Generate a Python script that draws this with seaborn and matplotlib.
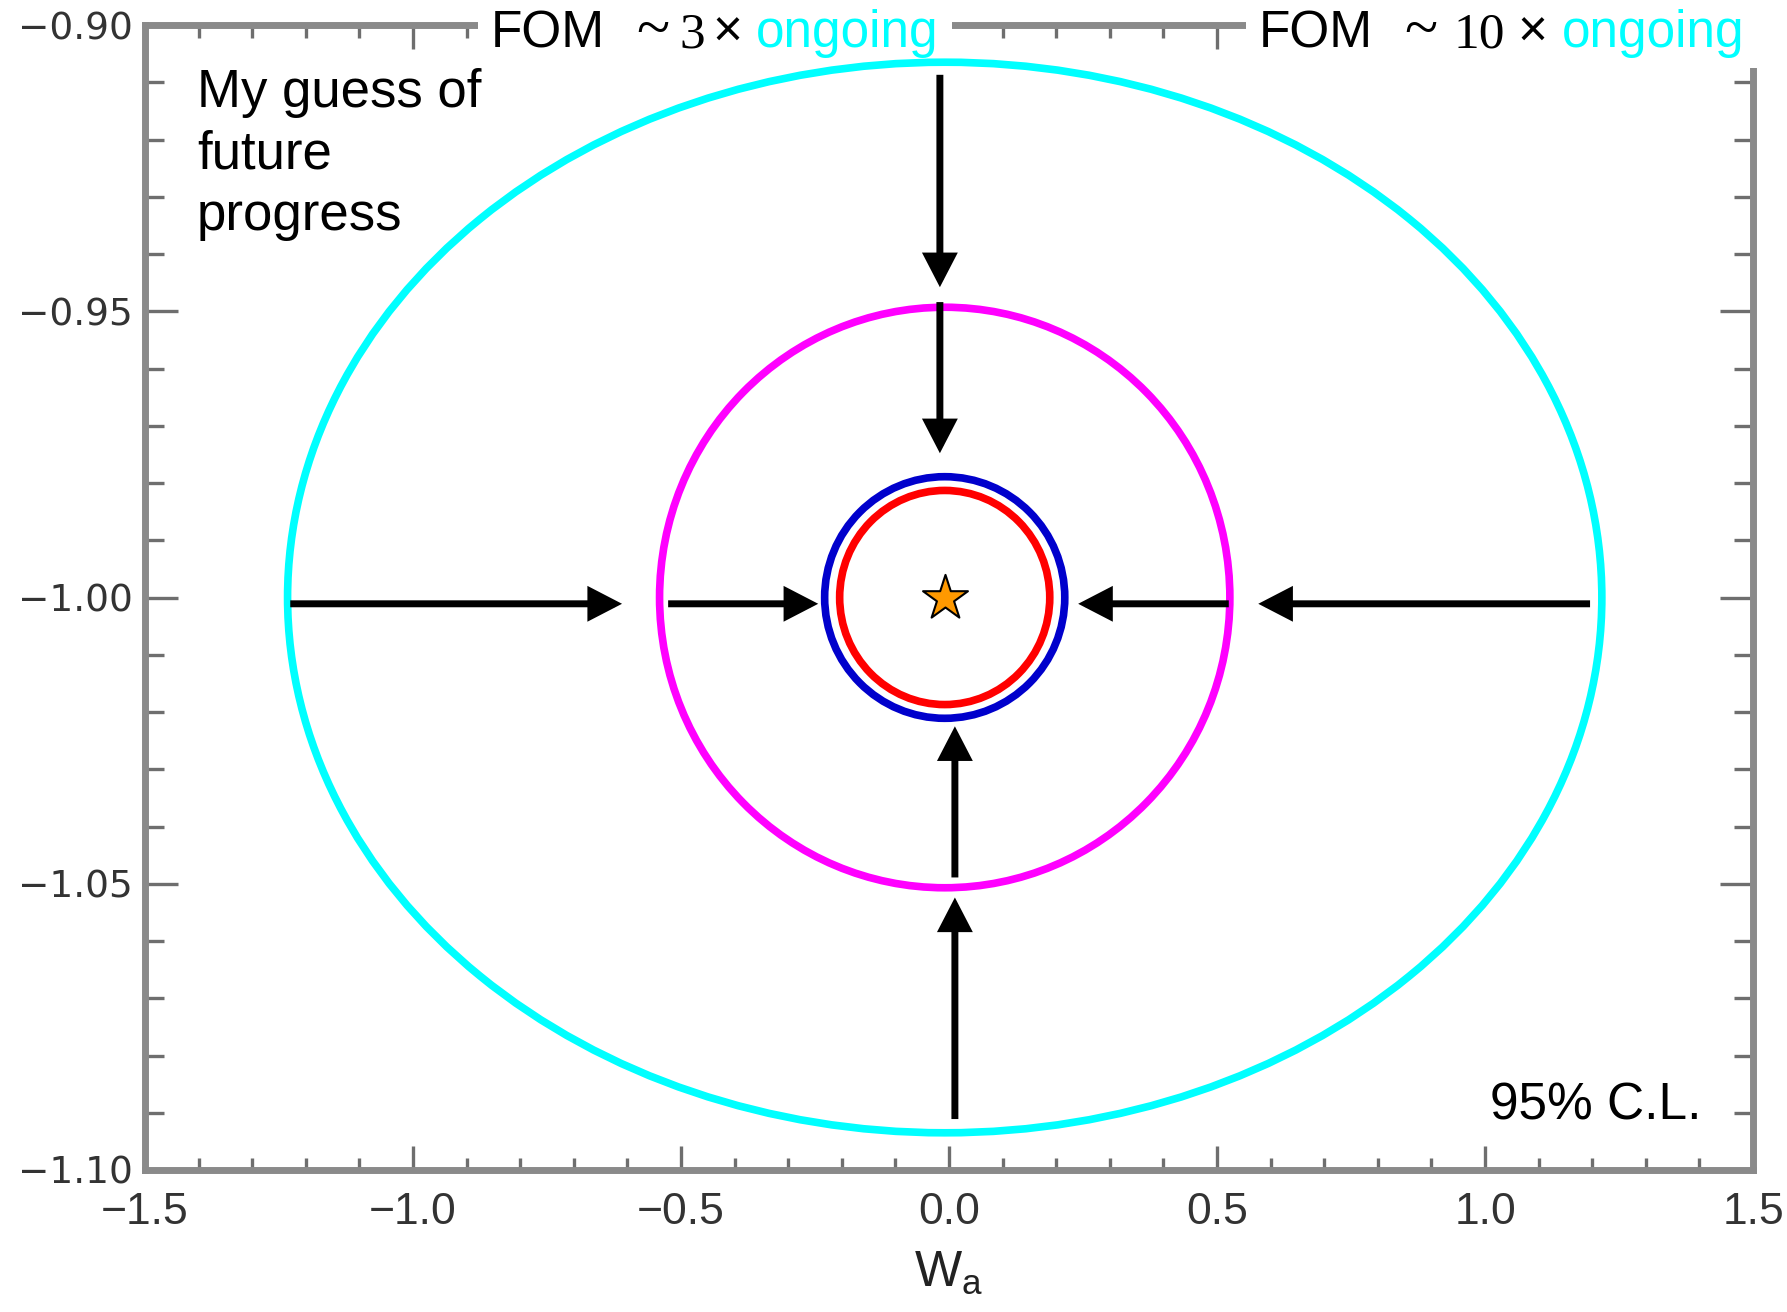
import numpy as np
import pandas as pd
import matplotlib
matplotlib.use("Agg")
import matplotlib.pyplot as plt
from matplotlib.patches import Ellipse, FancyArrowPatch, Rectangle
import seaborn as sns

# ---------------- data ----------------
contour_labels = ["ongoing", "FOM ~3x", "FOM ~10x (a)", "FOM ~10x (b)"]
contour_colors = ["#00FFFF", "#FF00FF", "#0000CC", "#FF0000"]
center_x = -0.008
center_y = -1.000
semi_x = [1.226, 0.532, 0.224, 0.196]
semi_y = [0.0935, 0.0507, 0.0211, 0.0187]

star_x = [-0.008]
star_y = [-1.000]

arrow_x0 = [-1.229, -0.524, 0.522, 1.196, -0.017, -0.017, 0.011, 0.011]
arrow_y0 = [-1.0011, -1.0011, -1.0011, -1.0011, -0.9087, -0.9484, -1.0489, -1.0911]
arrow_x1 = [-0.610, -0.244, 0.241, 0.577, -0.017, -0.017, 0.011, 0.011]
arrow_y1 = [-1.0011, -1.0011, -1.0011, -1.0011, -0.9458, -0.9748, -1.0225, -1.0524]

x_ticks = [-1.5, -1.0, -0.5, 0.0, 0.5, 1.0, 1.5]
x_ticklabels = ["\u22121.5", "\u22121.0", "\u22120.5", "0.0", "0.5", "1.0", "1.5"]
y_ticks = [-1.10, -1.05, -1.00, -0.95, -0.90]
y_ticklabels = ["\u22121.10", "\u22121.05", "\u22121.00", "\u22120.95", "\u22120.90"]

# ---------------- style ----------------
sns.set_style("ticks")
plt.rcParams["font.family"] = ["Liberation Sans", "DejaVu Sans"]

W, H = 1787, 1312
fig = plt.figure(figsize=(W / 100, H / 100), dpi=100)
ax = fig.add_axes([145 / W, 1 - 1170 / H, (1753 - 145) / W, (1170 - 25) / H])

ax.set_xlim(-1.5, 1.5)
ax.set_ylim(-1.10, -0.90)

# contours
for sx, sy, col in zip(semi_x, semi_y, contour_colors):
    ax.add_patch(Ellipse((center_x, center_y), 2 * sx, 2 * sy, fill=False,
                         edgecolor=col, linewidth=5.5, zorder=3))

# arrows
for x0, y0, x1, y1 in zip(arrow_x0, arrow_y0, arrow_x1, arrow_y1):
    ax.add_patch(FancyArrowPatch((x0, y0), (x1, y1),
                                 arrowstyle="-|>,head_length=17,head_width=8.8",
                                 mutation_scale=1, linewidth=5.0, color="black",
                                 joinstyle="miter", capstyle="butt",
                                 shrinkA=0, shrinkB=0, zorder=4))

# fiducial star
df_star = pd.DataFrame({"x": star_x, "y": star_y})
sns.scatterplot(data=df_star, x="x", y="y", marker="*", s=34 ** 2,
                color="#FF9900", edgecolor="black", linewidth=1.5, zorder=5, ax=ax,
                legend=False)

# axes styling
spine_col = "#8a8a8a"
for sp in ax.spines.values():
    sp.set_visible(True)
    sp.set_color(spine_col)
    sp.set_linewidth(5)

ax.set_xticks(x_ticks)
ax.set_xticklabels(x_ticklabels, fontsize=32, color="#333333", family="Liberation Sans")
ax.set_yticks(y_ticks)
ax.set_yticklabels(y_ticklabels, fontsize=27, color="#333333", family="DejaVu Sans")
ax.set_xticks(np.arange(-1.4, 1.45, 0.1), minor=True)
ax.set_yticks(np.arange(-1.09, -0.905, 0.01), minor=True)

ax.tick_params(axis="x", which="major", direction="in", length=17, width=2.4,
               color="#6e6e6e", top=True, bottom=True, pad=16)
ax.tick_params(axis="x", which="minor", direction="in", length=9, width=2.4,
               color="#6e6e6e", top=True, bottom=True)
ax.tick_params(axis="y", which="major", direction="in", length=24, width=2.4,
               color="#6e6e6e", left=True, right=True, pad=9)
ax.tick_params(axis="y", which="minor", direction="in", length=14, width=2.4,
               color="#6e6e6e", left=True, right=True)

ax.set_xlabel("W$_\\mathregular{a}$", fontsize=36, color="#222222", labelpad=12)
ax.set_ylabel("")

# annotations inside
ax.text(197 / W, 1 - 68 / H, "My guess of\nfuture\nprogress", transform=fig.transFigure,
        fontsize=38, ha="left", va="top", linespacing=1.3, color="black")
ax.text(1490 / W, 1 - 1120 / H, "95% C.L.", transform=fig.transFigure,
        fontsize=37, ha="left", va="baseline", color="black")

# header pieces covering the top spine
fig.add_artist(Rectangle((478 / W, 1 - 50 / H), (952 - 478) / W, 50 / H,
                         transform=fig.transFigure, facecolor="white",
                         edgecolor="none", zorder=2.5))
fig.add_artist(Rectangle((1246 / W, 1 - 68 / H), (W - 1246) / W, 68 / H,
                         transform=fig.transFigure, facecolor="white",
                         edgecolor="none", zorder=2.5))

header = [
    ("FOM", 491, "Liberation Sans", "black", 37),
    ("~", 636, "Liberation Serif", "black", 44),
    ("3", 679, "Liberation Serif", "black", 37),
    ("\u00d7", 712, "Liberation Sans", "black", 37),
    ("ongoing", 756, "Liberation Sans", "#00FFFF", 37),
    ("FOM", 1259, "Liberation Sans", "black", 37),
    ("~", 1404, "Liberation Serif", "black", 44),
    ("10", 1454, "Liberation Serif", "black", 37),
    ("\u00d7", 1517, "Liberation Sans", "black", 37),
    ("ongoing", 1562, "Liberation Sans", "#00FFFF", 37),
]
for txt, px, fam, col, fs in header:
    fig.text(px / W, 1 - 47 / H, txt, fontsize=fs, family=fam, color=col,
             ha="left", va="baseline", zorder=4)

fig.savefig("out.png", dpi=100)
